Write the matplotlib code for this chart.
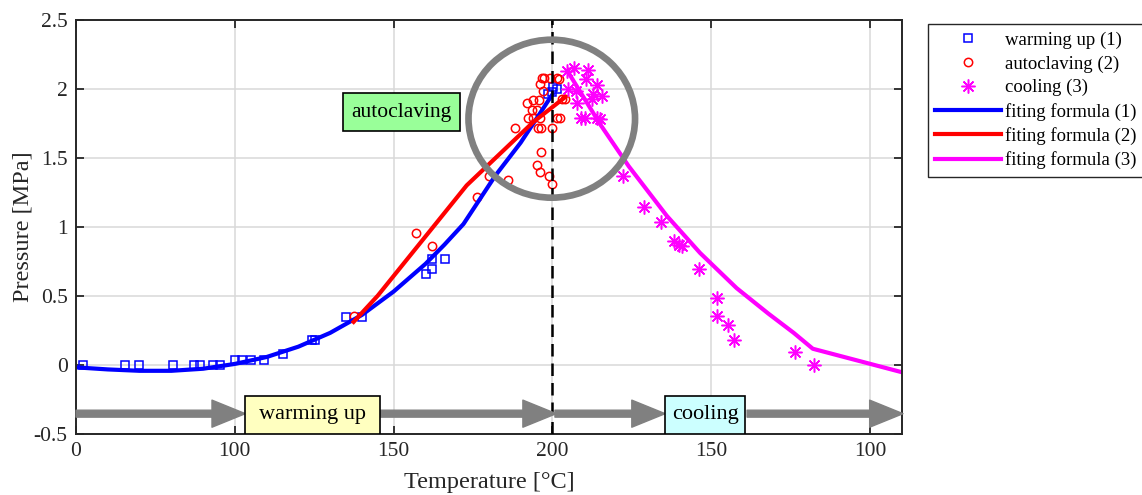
import matplotlib.pyplot as plt
from matplotlib.patches import Ellipse, Rectangle, FancyArrowPatch, ArrowStyle

plt.rcParams['font.family'] = ['Liberation Serif', 'DejaVu Serif']
plt.rcParams['axes.unicode_minus'] = False

# measured points (x = position along the heating/cooling path)
warm_x = [2.2, 15.3, 19.9, 30.4, 37.2, 39.1, 43.0, 45.2, 49.9, 52.2, 55.1, 59.3, 65.3,
          74.4, 75.3, 85.1, 90.1, 110.2, 112.0, 112.2, 116.2, 148.7, 149.9, 151.4, 150.2]
warm_y = [0, 0, 0, 0, 0, 0, 0, 0, 0.035, 0.035, 0.035, 0.03, 0.075,
          0.175, 0.175, 0.345, 0.345, 0.655, 0.765, 0.69, 0.765, 1.965, 1.975, 2.0, 2.015]

auto_x = [87.4, 107.0, 112.1, 126.2, 130.1, 135.9, 138.2, 141.9, 142.4, 144.0, 146.1, 143.5,
          145.1, 151.3, 152.4, 144.0, 145.9, 147.1, 146.1, 147.4, 149.2, 151.3, 146.6, 152.2,
          152.9, 154.0, 145.4, 146.4, 150.0, 146.3, 145.2, 146.2, 149.0, 150.0]
auto_y = [0.35, 0.955, 0.86, 1.215, 1.37, 1.34, 1.72, 1.9, 1.79, 1.79, 1.79, 1.85,
          1.85, 1.79, 1.79, 1.92, 1.92, 1.985, 2.035, 2.08, 2.08, 2.08, 2.08, 2.07,
          1.925, 1.925, 1.72, 1.72, 1.72, 1.545, 1.45, 1.40, 1.37, 1.31]

cool_x = [154.5, 156.8, 161.3, 160.6, 163.9, 155.0, 157.4, 162.9, 165.5, 157.7, 162.4, 159.0,
          160.3, 163.9, 165.0, 172.1, 179.0, 184.1, 188.3, 189.9, 190.7, 196.3, 201.9, 201.9,
          205.2, 207.2, 226.3, 232.3]
cool_y = [2.13, 2.15, 2.14, 2.07, 2.03, 2.0, 1.985, 1.96, 1.95, 1.9, 1.925, 1.79,
          1.79, 1.79, 1.78, 1.37, 1.14, 1.035, 0.895, 0.865, 0.86, 0.69, 0.485, 0.35,
          0.285, 0.175, 0.095, 0.0]

# fitted curves
fit1_x = [0, 10, 20, 30, 40, 50, 60, 70, 80, 90, 100, 110, 116, 122, 132, 140, 150]
fit1_y = [-0.02, -0.035, -0.045, -0.045, -0.03, 0.005, 0.055, 0.13, 0.23, 0.36, 0.53,
          0.73, 0.87, 1.02, 1.37, 1.61, 1.96]
fit2_x = [87.4, 95, 102, 112.5, 123, 133.5, 144, 154]
fit2_y = [0.31, 0.50, 0.70, 1.00, 1.30, 1.53, 1.76, 1.94]
fit3_x = [155, 165, 174, 186, 196.5, 208, 218, 226, 232, 260]
fit3_y = [2.12, 1.745, 1.44, 1.08, 0.81, 0.555, 0.37, 0.23, 0.115, -0.055]

tick_pos = [0, 50, 100, 150, 200, 250]
tick_lab = ['0', '100', '150', '200', '150', '100']
ytick_pos = [-0.5, 0, 0.5, 1, 1.5, 2, 2.5]
ytick_lab = ['-0.5', '0', '0.5', '1', '1.5', '2', '2.5']

fig = plt.figure(figsize=(11.42, 4.95), dpi=100)
ax = fig.add_axes([0.0666, 0.1242, 0.7230, 0.8354])

ax.grid(True, color='#d9d9d9', lw=1.1)
ax.set_axisbelow(True)

l1, = ax.plot(warm_x, warm_y, ls='none', marker='s', ms=5.5, mfc='none', mec='blue', mew=1.1,
              label='warming up (1)')
l2, = ax.plot(auto_x, auto_y, ls='none', marker='o', ms=6, mfc='none', mec='red', mew=1.1,
              label='autoclaving (2)')
l3, = ax.plot(cool_x, cool_y, ls='none', marker=(8, 2, 0), ms=10, mec='magenta', mew=1.1,
              label='cooling (3)')
f1, = ax.plot(fit1_x, fit1_y, color='blue', lw=3, label='fiting formula (1)')
f2, = ax.plot(fit2_x, fit2_y, color='red', lw=3, label='fiting formula (2)')
f3, = ax.plot(fit3_x, fit3_y, color='magenta', lw=3, label='fiting formula (3)')

ax.axvline(150, color='black', lw=1.8, ls=(0, (5, 2.8)), zorder=3)

# peak region
ax.add_patch(Ellipse((149.8, 1.784), 52.45, 1.146, fill=False, ec='#808080', lw=4.8, zorder=5))

# process stages along the bottom
arrow_y = -0.356
for x0, x1 in [(0, 53.3), (95.8, 151.2), (150.8, 185.5), (211.3, 260.4)]:
    ax.add_patch(FancyArrowPatch((x0, arrow_y), (x1, arrow_y),
                                 arrowstyle=ArrowStyle.Simple(head_length=24, head_width=19.5, tail_width=5),
                                 mutation_scale=1, color='#808080', shrinkA=0, shrinkB=0,
                                 zorder=4, clip_on=False))

ax.add_patch(Rectangle((53.3, -0.5), 42.5, 0.272, fc='#ffffc0', ec='black', lw=1.2, zorder=6))
ax.text(74.5, -0.362, 'warming up', ha='center', va='center', fontsize=16, zorder=7)
ax.add_patch(Rectangle((185.6, -0.5), 25.0, 0.272, fc='#ccffff', ec='black', lw=1.2, zorder=6))
ax.text(198.1, -0.362, 'cooling', ha='center', va='center', fontsize=16, zorder=7)
ax.add_patch(Rectangle((84.0, 1.693), 36.9, 0.275, fc='#99ff99', ec='black', lw=1.2, zorder=6))
ax.text(102.5, 1.83, 'autoclaving', ha='center', va='center', fontsize=15.5, zorder=7)

ax.set_xlim(0, 260)
ax.set_ylim(-0.5, 2.5)
ax.set_xticks(tick_pos)
ax.set_xticklabels(tick_lab)
ax.set_yticks(ytick_pos)
ax.set_yticklabels(ytick_lab)
ax.tick_params(direction='in', length=6, width=1.3, labelsize=15.5, colors='#262626',
               top=True, right=True, pad=6)
for s in ax.spines.values():
    s.set_linewidth(1.4)
    s.set_color('#262626')

ax.set_xlabel('Temperature [°C]', fontsize=17.5, color='#262626', labelpad=8)
ax.set_ylabel('Pressure [MPa]', fontsize=17.5, color='#262626', labelpad=0)

fig.legend(handles=[l1, l2, l3, f1, f2, f3], loc='upper left',
           bbox_to_anchor=(927.7 / 1142, 1 - 24.3 / 495), fontsize=13.5,
           frameon=True, fancybox=False, edgecolor='#262626', framealpha=1,
           handlelength=3.5, handletextpad=0.2, labelspacing=0.34, borderpad=0.4,
           borderaxespad=0, markerscale=1.0)

fig.savefig('out.png', dpi=100)
